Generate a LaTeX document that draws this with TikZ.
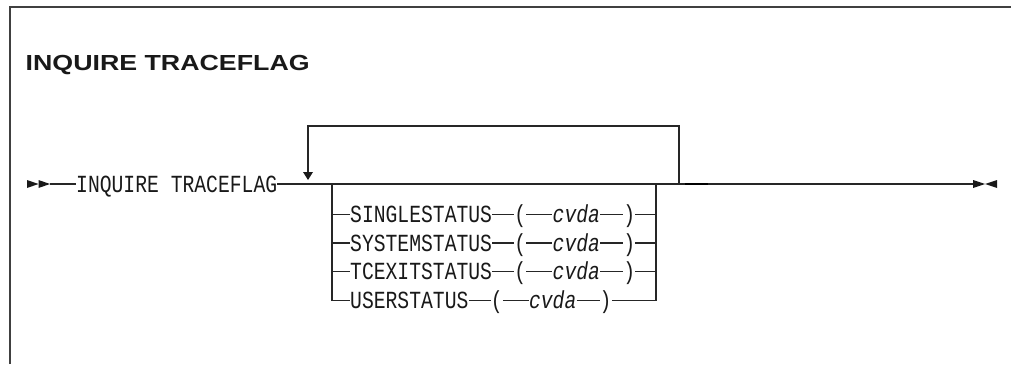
\documentclass[tikz,border=0pt]{standalone}
\usepackage{fontspec}
\usepackage{graphicx}
\newfontfamily\diagmono{Liberation Mono}
\newfontfamily\titlefont{Liberation Sans Bold}
\newlength\mcap
\newcommand\dmono[1]{\scalebox{\mstr}[1]{#1}}
\begin{document}%
\settoheight\mcap{\diagmono\fontsize{20}{20}\selectfont H}%
\pgfmathsetmacro\msize{20*16.2/\mcap}%
\pgfmathsetmacro\mstr{11.82/(0.6*\msize)}%
\begin{tikzpicture}[x=1pt,y=-1pt,
  ln/.style={line width=1.2pt, draw=black!85},
  kw/.style={inner sep=0pt, anchor=west, text height=16.2pt, text depth=0pt,
    font=\diagmono\fontsize{\msize}{\msize}\selectfont, text=black!90},
  var/.style={kw, font=\diagmono\itshape\fontsize{\msize}{\msize}\selectfont},
  tip/.style={fill=black!90, draw=none}
]
\useasboundingbox (0,0) rectangle (1011,364);
% frame
\draw[line width=1.5pt, black!75] (9.8,364) -- (9.8,6.8) -- (1011,6.8);
% title
\node[anchor=base west, inner sep=0pt, font=\titlefont\fontsize{21.8}{21.8}\selectfont, text=black!90] (title) at (25.5,70.5) {\resizebox{284pt}{\height}{INQUIRE TRACEFLAG}};
% start
\fill[tip] (27,180) -- (38.5,184) -- (27,188) -- cycle;
\fill[tip] (38.5,180) -- (50,184) -- (38.5,188) -- cycle;
\coordinate (s1) at (50,184);
\node[kw] (cmd) at (76,184) {\dmono{INQUIRE TRACEFLAG}};
\draw[ln] (s1) -- (cmd.west);
% main line
\coordinate (jl) at (332,184);
\coordinate (jr) at (656,184);
\coordinate (lr) at (679,184);
\coordinate (e0) at (973,184);
\coordinate (d0) at (685,184);
\coordinate (d1) at (708,184);
\draw[ln] (cmd.east) -- (e0);
\draw[line width=2pt, black] (d0) -- (d1);
% end
\fill[tip] (973,180) -- (985,184) -- (973,188) -- cycle;
\fill[tip] (997,180) -- (985,184) -- (997,188) -- cycle;
% repeat loop
\coordinate (lt) at (308,172);
\draw[ln] (lr) -- (679,126) -- (308,126) -- (lt);
\fill[tip] (303,172) -- (313,172) -- (308,180) -- cycle;
% rows
\foreach \i/\y/\word in {1/214.5/SINGLESTATUS, 2/243/SYSTEMSTATUS, 3/271.5/TCEXITSTATUS, 4/300.5/USERSTATUS}{
  \node[kw] (k\i) at (350,\y) {\dmono{\word}};
  \node[kw] (lp\i) at ([xshift=22pt]k\i.east) {\dmono{(}};
  \node[var] (v\i) at ([xshift=26pt]lp\i.east) {\dmono{cvda}};
  \node[kw] (rp\i) at ([xshift=23pt]v\i.east) {\dmono{)}};
  \coordinate (L\i) at (332,\y);
  \coordinate (R\i) at (656,\y);
  \draw[ln] (L\i) -- (k\i.west);
  \draw[ln] (k\i.east) -- (lp\i.west);
  \draw[ln] (lp\i.east) -- (v\i.west);
  \draw[ln] (v\i.east) -- (rp\i.west);
  \draw[ln] (rp\i.east) -- (R\i);
}
\draw[ln] (jl) -- (L4);
\draw[ln] (jr) -- (R4);
\end{tikzpicture}%
\end{document}
